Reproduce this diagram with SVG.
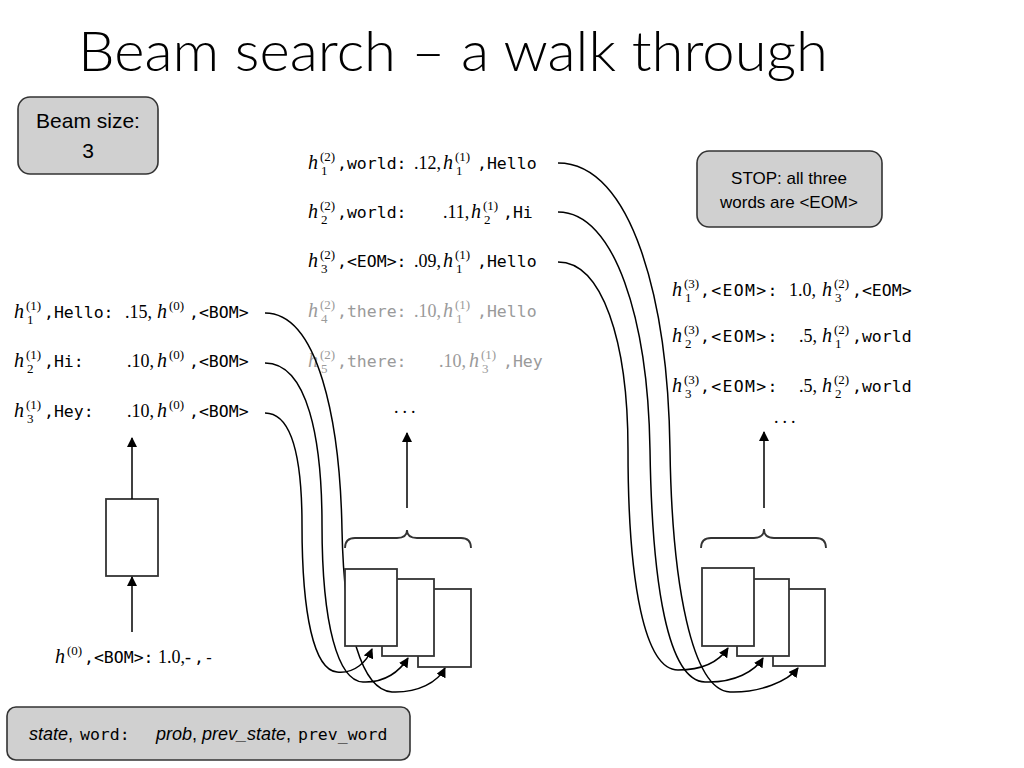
<svg xmlns="http://www.w3.org/2000/svg" width="1024" height="768" viewBox="0 0 1024 768">
<defs>
<marker id="ah" viewBox="0 0 10 10" refX="9" refY="5" markerWidth="10" markerHeight="10" markerUnits="userSpaceOnUse" orient="auto">
<path d="M0,0 L10,5 L0,10 z" fill="#000"/>
</marker>
<style>
.title{font-family:Lato,"Open Sans","Liberation Sans",sans-serif;font-weight:300;font-size:56px;fill:#000}
.note{fill:#d0d0d0;stroke:#333;stroke-width:1.6}
.sans{font-family:"Liberation Sans","Open Sans",sans-serif;fill:#000}
.mono{font-family:"DejaVu Sans Mono","Liberation Mono",monospace;font-size:16.5px}
.mi{font-family:"Liberation Serif",serif;font-style:italic;font-size:20px}
.mn{font-family:"Liberation Serif",serif;font-size:18px}
.sc{font-family:"Liberation Serif",serif;font-size:13px}
.row{fill:#000}
.gray{fill:#9a9a9a}
.box{fill:#fff;stroke:#333;stroke-width:1.8}
.conn{fill:none;stroke:#000;stroke-width:1.5}
.brace{fill:none;stroke:#333;stroke-width:1.8}
</style>
</defs>
<rect width="1024" height="768" fill="#fff"/>

<text class="title" x="78" y="71" textLength="750" lengthAdjust="spacingAndGlyphs">Beam search – a walk through</text>

<g id="beam-size">
<rect class="note" x="18" y="97" width="140" height="77" rx="12"/>
<text class="sans" x="88" y="128" font-size="21" text-anchor="middle">Beam size:</text>
<text class="sans" x="88" y="158" font-size="21" text-anchor="middle">3</text>
</g>

<g id="stop">
<rect class="note" x="697" y="151" width="185" height="76" rx="12"/>
<text class="sans" x="789" y="184" font-size="17" text-anchor="middle">STOP: all three</text>
<text class="sans" x="789" y="208" font-size="17" text-anchor="middle">words are &lt;EOM&gt;</text>
</g>

<g id="legend">
<rect class="note" x="7" y="707" width="403" height="53" rx="9"/>
<text class="sans" y="740" font-size="18"><tspan x="29" font-style="italic">state</tspan><tspan>,</tspan><tspan class="mono" x="80" font-size="16">word:</tspan><tspan x="156" font-style="italic">prob</tspan><tspan>, </tspan><tspan font-style="italic">prev_state</tspan><tspan>,</tspan><tspan class="mono" x="298" font-size="16">prev_word</tspan></text>
</g>

<!-- step 0 -->
<g id="h0">
<text class="row" y="663"><tspan class="mi" x="55">h</tspan><tspan class="sc" x="67" y="655">(0)</tspan><tspan class="mono" x="84" y="663">,&lt;BOM&gt;:</tspan><tspan class="mn" x="158">1.0,-</tspan><tspan class="mono" x="194">,-</tspan></text>
</g>

<!-- step 1 -->
<g id="step1-rows">
<text class="row" y="318"><tspan class="mi" x="14">h</tspan><tspan class="sc" x="26" y="310">(1)</tspan><tspan class="sc" x="27" y="324">1</tspan><tspan class="mono" x="44" y="318">,Hello:</tspan><tspan class="mn" x="125">.15,</tspan><tspan class="mi" x="157">h</tspan><tspan class="sc" x="169" y="310">(0)</tspan><tspan class="mono" x="189" y="318">,&lt;BOM&gt;</tspan></text>
<text class="row" y="367"><tspan class="mi" x="14">h</tspan><tspan class="sc" x="26" y="359">(1)</tspan><tspan class="sc" x="27" y="373">2</tspan><tspan class="mono" x="44" y="367">,Hi:</tspan><tspan class="mn" x="127">.10,</tspan><tspan class="mi" x="157">h</tspan><tspan class="sc" x="169" y="359">(0)</tspan><tspan class="mono" x="189" y="367">,&lt;BOM&gt;</tspan></text>
<text class="row" y="417"><tspan class="mi" x="14">h</tspan><tspan class="sc" x="26" y="409">(1)</tspan><tspan class="sc" x="27" y="423">3</tspan><tspan class="mono" x="44" y="417">,Hey:</tspan><tspan class="mn" x="127">.10,</tspan><tspan class="mi" x="157">h</tspan><tspan class="sc" x="169" y="409">(0)</tspan><tspan class="mono" x="189" y="417">,&lt;BOM&gt;</tspan></text>
</g>

<g id="rnn1">
<rect class="box" x="106" y="499" width="52" height="77"/>
</g>

<!-- step 2 -->
<g id="step2-rows">
<text class="row" y="169"><tspan class="mi" x="308">h</tspan><tspan class="sc" x="320" y="161">(2)</tspan><tspan class="sc" x="321" y="175">1</tspan><tspan class="mono" x="337" y="169">,world:</tspan><tspan class="mn" x="414">.12,</tspan><tspan class="mi" x="443">h</tspan><tspan class="sc" x="455" y="161">(1)</tspan><tspan class="sc" x="456" y="175">1</tspan><tspan class="mono" x="477" y="169">,Hello</tspan></text>
<text class="row" y="218"><tspan class="mi" x="308">h</tspan><tspan class="sc" x="320" y="210">(2)</tspan><tspan class="sc" x="321" y="224">2</tspan><tspan class="mono" x="337" y="218">,world:</tspan><tspan class="mn" x="443">.11,</tspan><tspan class="mi" x="471">h</tspan><tspan class="sc" x="483" y="210">(1)</tspan><tspan class="sc" x="484" y="224">2</tspan><tspan class="mono" x="503" y="218">,Hi</tspan></text>
<text class="row" y="267"><tspan class="mi" x="308">h</tspan><tspan class="sc" x="320" y="259">(2)</tspan><tspan class="sc" x="321" y="273">3</tspan><tspan class="mono" x="337" y="267">,&lt;EOM&gt;:</tspan><tspan class="mn" x="414">.09,</tspan><tspan class="mi" x="443">h</tspan><tspan class="sc" x="455" y="259">(1)</tspan><tspan class="sc" x="456" y="273">1</tspan><tspan class="mono" x="477" y="267">,Hello</tspan></text>
<text class="gray" y="317"><tspan class="mi" x="308">h</tspan><tspan class="sc" x="320" y="309">(2)</tspan><tspan class="sc" x="321" y="323">4</tspan><tspan class="mono" x="337" y="317">,there:</tspan><tspan class="mn" x="414">.10,</tspan><tspan class="mi" x="443">h</tspan><tspan class="sc" x="455" y="309">(1)</tspan><tspan class="sc" x="456" y="323">1</tspan><tspan class="mono" x="477" y="317">,Hello</tspan></text>
<text class="gray" y="367"><tspan class="mi" x="308">h</tspan><tspan class="sc" x="320" y="359">(2)</tspan><tspan class="sc" x="321" y="373">5</tspan><tspan class="mono" x="337" y="367">,there:</tspan><tspan class="mn" x="439">.10,</tspan><tspan class="mi" x="469">h</tspan><tspan class="sc" x="481" y="359">(1)</tspan><tspan class="sc" x="482" y="373">3</tspan><tspan class="mono" x="503" y="367">,Hey</tspan></text>
<text class="mn" x="394" y="413" letter-spacing="4">...</text>
</g>

<!-- step 3 -->
<g id="step3-rows">
<text class="row" y="296"><tspan class="mi" x="672">h</tspan><tspan class="sc" x="684" y="288">(3)</tspan><tspan class="sc" x="685" y="302">1</tspan><tspan class="mono" x="700" y="296" letter-spacing="1.3">,&lt;EOM&gt;:</tspan><tspan class="mn" x="789">1.0,</tspan><tspan class="mi" x="822">h</tspan><tspan class="sc" x="834" y="288">(2)</tspan><tspan class="sc" x="835" y="302">3</tspan><tspan class="mono" x="852" y="296">,&lt;EOM&gt;</tspan></text>
<text class="row" y="342"><tspan class="mi" x="672">h</tspan><tspan class="sc" x="684" y="334">(3)</tspan><tspan class="sc" x="685" y="348">2</tspan><tspan class="mono" x="700" y="342" letter-spacing="1.3">,&lt;EOM&gt;:</tspan><tspan class="mn" x="799">.5,</tspan><tspan class="mi" x="822">h</tspan><tspan class="sc" x="834" y="334">(2)</tspan><tspan class="sc" x="835" y="348">1</tspan><tspan class="mono" x="852" y="342">,world</tspan></text>
<text class="row" y="392"><tspan class="mi" x="672">h</tspan><tspan class="sc" x="684" y="384">(3)</tspan><tspan class="sc" x="685" y="398">3</tspan><tspan class="mono" x="700" y="392" letter-spacing="1.3">,&lt;EOM&gt;:</tspan><tspan class="mn" x="799">.5,</tspan><tspan class="mi" x="822">h</tspan><tspan class="sc" x="834" y="384">(2)</tspan><tspan class="sc" x="835" y="398">2</tspan><tspan class="mono" x="852" y="392">,world</tspan></text>
<text class="mn" x="774" y="423" letter-spacing="4">...</text>
</g>

<g id="connectors">
<line class="conn" x1="132" y1="632" x2="132" y2="577" marker-end="url(#ah)"/>
<line class="conn" x1="132" y1="499" x2="132" y2="438" marker-end="url(#ah)"/>
<line class="conn" x1="407" y1="508" x2="407" y2="433" marker-end="url(#ah)"/>
<line class="conn" x1="764" y1="508" x2="764" y2="432" marker-end="url(#ah)"/>
<path class="brace" d="M345 548 Q345 538 355 538 L397 538 Q407 538 407 530 Q407 538 417 538 L461 538 Q471 538 471 548"/>
<path class="brace" d="M701 548 Q701 538 711 538 L754 538 Q764 538 764 529 Q764 538 774 538 L816 538 Q826 538 826 548"/>
<path class="conn" d="M265 313 C318 313 340 420 342 530 C344 630 362 690 392 692 C418 693 438 682 445 668" marker-end="url(#ah)"/>
<path class="conn" d="M265 363 C308 363 322 440 322 525 C322 625 338 681 363 682 C385 683 400 671 408 658" marker-end="url(#ah)"/>
<path class="conn" d="M265 413 C293 413 302 460 302 525 C302 615 314 670 337 672 C355 674 367 661 372 649" marker-end="url(#ah)"/>
<path class="conn" d="M558 163 C632 163 668 300 670 450 C672 585 692 690 730 692 C760 693 788 681 798 668" marker-end="url(#ah)"/>
<path class="conn" d="M558 212 C615 212 648 320 650 450 C652 585 668 681 705 682 C735 683 755 671 763 658" marker-end="url(#ah)"/>
<path class="conn" d="M558 262 C602 262 628 340 628 450 C628 585 645 670 678 670 C705 670 720 660 728 648" marker-end="url(#ah)"/>
</g>

<g id="rnn2">
<rect class="box" x="418" y="589" width="53" height="78"/>
<rect class="box" x="382" y="579" width="52" height="77"/>
<rect class="box" x="345" y="569" width="52" height="77"/>
</g>

<g id="rnn3">
<rect class="box" x="773" y="589" width="52" height="77"/>
<rect class="box" x="737" y="579" width="52" height="77"/>
<rect class="box" x="702" y="568" width="52" height="78"/>
</g>
</svg>
